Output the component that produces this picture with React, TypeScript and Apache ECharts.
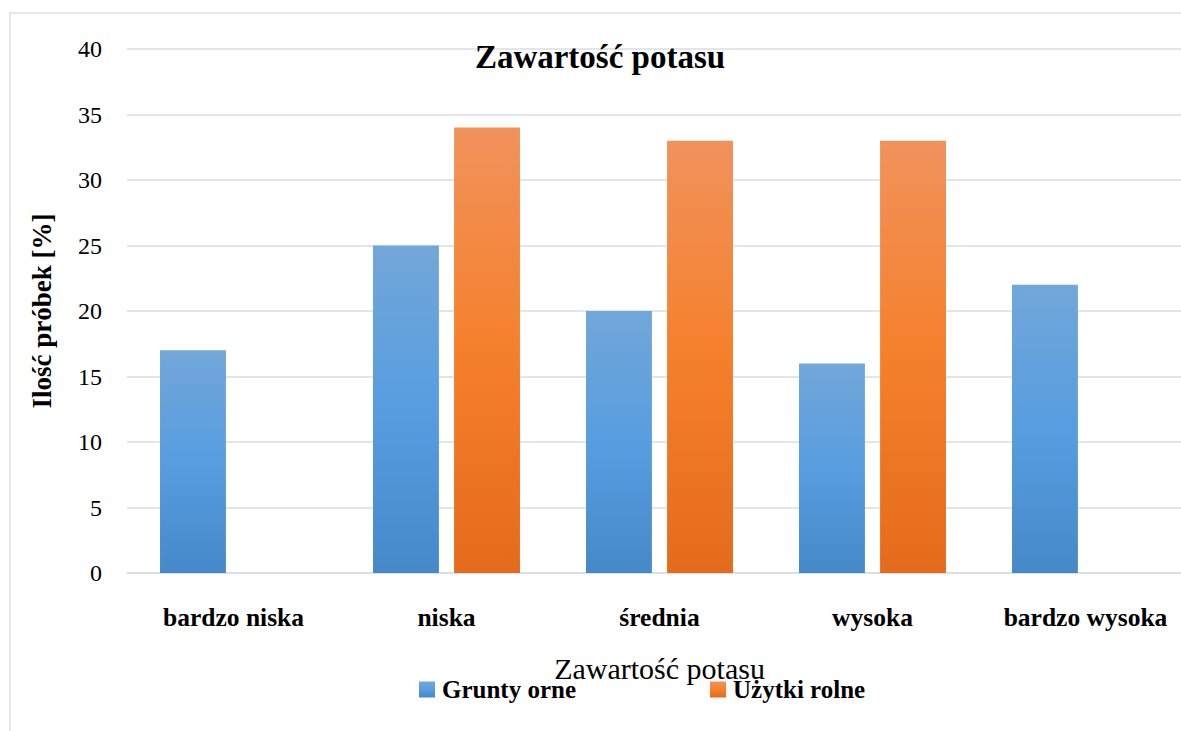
import React, { useEffect, useRef } from "react";
import * as echarts from "echarts";

const categories = ["bardzo niska", "niska", "średnia", "wysoka", "bardzo wysoka"];
const gruntyOrne = [17, 25, 20, 16, 22];
const uzytkiRolne = [0, 34, 33, 33, 0];
const seriesNames = ["Grunty orne", "Użytki rolne"];
const titleText = "Zawartość potasu";
const xAxisName = "Zawartość potasu";
const yAxisName = "Ilość próbek [%]";

const FONT = "Liberation Serif";

export default function App() {
  const ref = useRef<HTMLDivElement>(null);
  useEffect(() => {
    if (!ref.current) return;
    const chart = echarts.init(ref.current, undefined, { renderer: "svg" });
    const blue = new echarts.graphic.LinearGradient(0, 0, 0, 1, [
      { offset: 0, color: "#72a7d9" },
      { offset: 0.5, color: "#579de0" },
      { offset: 1, color: "#4689c9" },
    ]);
    const orange = new echarts.graphic.LinearGradient(0, 0, 0, 1, [
      { offset: 0, color: "#f1925c" },
      { offset: 0.5, color: "#f5802b" },
      { offset: 1, color: "#e46b1b" },
    ]);
    chart.setOption({
      animation: false,
      textStyle: { fontFamily: FONT },
      graphic: [
        {
          type: "rect",
          shape: { x: 10, y: 13, width: 1240, height: 800 },
          style: { fill: "none", stroke: "#dce1e8", lineWidth: 1.5 },
          silent: true,
        },
      ],
      title: {
        text: titleText,
        left: 595,
        textAlign: "center",
        top: 35,
        textStyle: { fontFamily: FONT, fontSize: 33, fontWeight: "bold", color: "#000" },
      },
      legend: {
        left: 414,
        top: 672,
        itemWidth: 16,
        itemHeight: 16,
        itemGap: 134,
        icon: "rect",
        textStyle: { fontFamily: FONT, fontSize: 25, fontWeight: "bold", color: "#000", padding: [0, 0, 0, 2] },
        data: seriesNames,
      },
      grid: { left: 127, top: 49, bottom: 158, right: 8 },
      xAxis: {
        type: "category",
        data: categories,
        name: xAxisName,
        nameLocation: "middle",
        nameGap: 80,
        nameTextStyle: { fontFamily: FONT, fontSize: 30, color: "#000" },
        axisLine: { lineStyle: { color: "#d9dee6", width: 1.5 } },
        axisTick: { show: false },
        axisLabel: {
          fontFamily: FONT,
          fontSize: 25.5,
          fontWeight: "bold",
          color: "#000",
          margin: 31,
          interval: 0,
        },
      },
      yAxis: {
        type: "value",
        min: 0,
        max: 40,
        interval: 5,
        name: yAxisName,
        nameLocation: "middle",
        nameGap: 72,
        nameTextStyle: { fontFamily: FONT, fontSize: 27, fontWeight: "bold", color: "#000" },
        axisLine: { show: false },
        axisTick: { show: false },
        axisLabel: { fontFamily: FONT, fontSize: 24, color: "#000", margin: 25 },
        splitLine: { lineStyle: { color: "#d9dee6", width: 1.5 } },
      },
      series: [
        {
          name: seriesNames[0],
          type: "bar",
          data: gruntyOrne,
          barGap: "23%",
          barCategoryGap: "31%",
          itemStyle: { color: blue },
        },
        {
          name: seriesNames[1],
          type: "bar",
          data: uzytkiRolne,
          itemStyle: { color: orange },
        },
      ],
    });
    return () => chart.dispose();
  }, []);
  return (
    <div
      style={{
        position: "absolute",
        left: 0,
        top: 0,
        width: 1181,
        height: 731,
        overflow: "hidden",
        background: "#fff",
      }}
    >
      <div ref={ref} style={{ width: 1200, height: 731 }} />
    </div>
  );
}
